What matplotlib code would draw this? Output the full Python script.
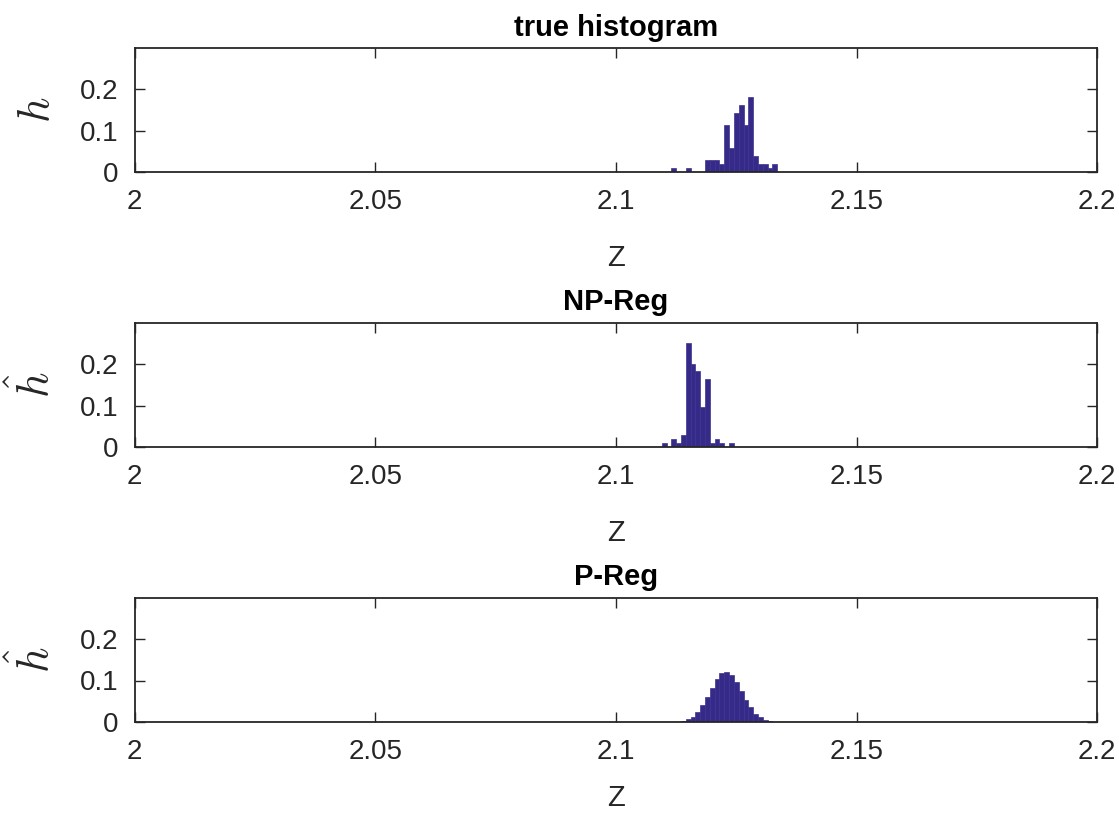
import numpy as np
import matplotlib
matplotlib.use("Agg")
import matplotlib.pyplot as plt

# ---- data (bin centers, width 0.001) ----
bin_width = 0.001
x_ticks = [2.0, 2.05, 2.1, 2.15, 2.2]
x_tick_labels = ["2", "2.05", "2.1", "2.15", "2.2"]
y_ticks = [0, 0.1, 0.2]
y_tick_labels = ["0", "0.1", "0.2"]
titles = ["true histogram", "NP-Reg", "P-Reg"]
ylabels = [r"$h$", r"$\hat{h}$", r"$\hat{h}$"]

true_centers = [2.112, 2.113, 2.114, 2.115, 2.116, 2.117, 2.118, 2.119, 2.120,
                2.121, 2.122, 2.123, 2.124, 2.125, 2.126, 2.127, 2.128, 2.129,
                2.130, 2.131, 2.132, 2.133]
true_vals = [0.0095, 0, 0, 0.0095, 0, 0, 0, 0.0286, 0.0286,
             0.0286, 0.019, 0.114, 0.057, 0.143, 0.162, 0.114, 0.181, 0.038,
             0.019, 0.019, 0.0095, 0.019]

np_centers = [2.110, 2.111, 2.112, 2.113, 2.114, 2.115, 2.116, 2.117, 2.118,
              2.119, 2.120, 2.121, 2.122, 2.123, 2.124]
np_vals = [0.009, 0, 0.019, 0.009, 0.028, 0.250, 0.200, 0.183, 0.097,
           0.163, 0.009, 0.019, 0.009, 0, 0.009]

p_centers = [2.113, 2.114, 2.115, 2.116, 2.117, 2.118, 2.119, 2.120, 2.121,
             2.122, 2.123, 2.124, 2.125, 2.126, 2.127, 2.128, 2.129, 2.130,
             2.131, 2.132, 2.133]
p_vals = [0.001, 0.003, 0.008, 0.013, 0.025, 0.040, 0.060, 0.083, 0.104,
          0.118, 0.121, 0.113, 0.096, 0.075, 0.053, 0.035, 0.020, 0.011,
          0.006, 0.003, 0.001]

# full grid of bins for estimated histograms (near-zero elsewhere)
grid = np.round(np.arange(2.0, 2.2 + 1e-9, bin_width), 3)


def full(centers, vals):
    d = dict(zip(np.round(centers, 3), vals))
    return np.array([d.get(c, 0.0) for c in grid])


true_nz = np.array(true_vals) > 0
series = [
    (np.array(true_centers)[true_nz], np.array(true_vals)[true_nz]),
    (grid, full(np_centers, np_vals)),
    (grid, full(p_centers, p_vals)),
]

bar_color = "#352A87"
edge_color = "#3c3290"
text_color = "#262626"

plt.rcParams["font.family"] = ["Liberation Sans", "DejaVu Sans"]
plt.rcParams["mathtext.fontset"] = "cm"

fig = plt.figure(figsize=(11.19, 8.17), dpi=100)
W, H = 1119, 817
left_px, right_px = 134.7, 1097.3
axes_px = [(48, 172), (322.5, 447), (597.5, 722)]
zlabel_y = [-0.58, -0.58, -0.5]

for i, (top, bot) in enumerate(axes_px):
    ax = fig.add_axes([left_px / W, 1 - bot / H, (right_px - left_px) / W, (bot - top) / H])
    xs, ys = series[i]
    ax.bar(xs, ys, width=bin_width, color=bar_color, edgecolor=edge_color,
           linewidth=0.5, zorder=2)
    ax.set_xlim(2.0, 2.2)
    ax.set_ylim(0, 0.3)
    ax.set_xticks(x_ticks)
    ax.set_xticklabels(x_tick_labels)
    ax.set_yticks(y_ticks)
    ax.set_yticklabels(y_tick_labels)
    ax.tick_params(direction="in", length=7, width=1.0, top=True, right=True,
                   labelsize=20, colors=text_color)
    ax.tick_params(axis="x", pad=12)
    ax.tick_params(axis="y", pad=12)
    for sp in ax.spines.values():
        sp.set_color(text_color)
        sp.set_linewidth(1.3)
        sp.set_zorder(3)
    ax.set_title(titles[i], fontsize=21, fontweight="bold", color="black", pad=9)
    ax.set_xlabel("Z", fontsize=21, color=text_color)
    ax.xaxis.set_label_coords(0.5, zlabel_y[i])
    ax.set_ylabel(ylabels[i], fontsize=32, color=text_color)
    ax.yaxis.set_label_coords(-0.08, 0.5)

fig.savefig("out.png", dpi=100)
